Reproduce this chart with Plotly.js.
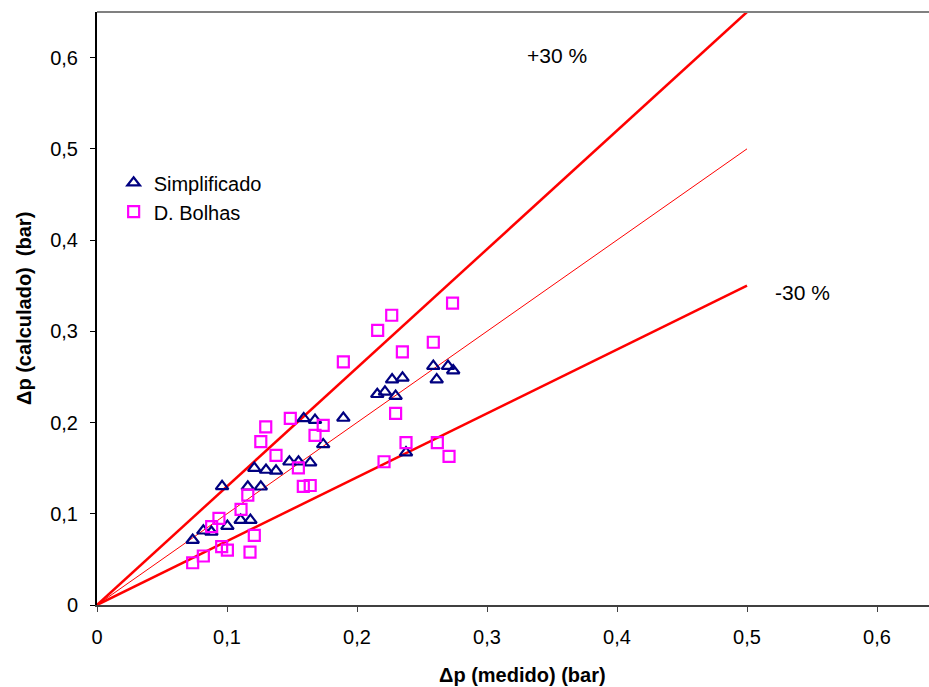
<!DOCTYPE html>
<html>
<head>
<meta charset="utf-8">
<script src="https://cdn.plot.ly/plotly-3.0.1.min.js"></script>
<style>html,body{margin:0;padding:0;background:#fff;}#chart{width:929px;height:687px;}</style>
</head>
<body>
<div id="chart"></div>
<script>
// Simplificado (triangles)
const simpX = [0.0736, 0.0818, 0.088, 0.1003, 0.1105, 0.118, 0.0962, 0.116, 0.126, 0.121, 0.130, 0.1377, 0.148, 0.155, 0.164, 0.159, 0.1677, 0.1895, 0.174, 0.2156, 0.2215, 0.2297, 0.227, 0.235, 0.2587, 0.270, 0.274, 0.2613, 0.2377];
const simpY = [0.0712, 0.0814, 0.080, 0.0865, 0.093, 0.093, 0.130, 0.1296, 0.1296, 0.150, 0.148, 0.147, 0.157, 0.157, 0.156, 0.2045, 0.2026, 0.205, 0.176, 0.231, 0.2336, 0.229, 0.247, 0.249, 0.2618, 0.2618, 0.257, 0.247, 0.167];
// D. Bolhas (squares)
const bolhX = [0.2735, 0.2267, 0.2159, 0.2587, 0.2349, 0.1895, 0.174, 0.1677, 0.2297, 0.2377, 0.2618, 0.2708, 0.2208, 0.0736, 0.0818, 0.0959, 0.1003, 0.1177, 0.121, 0.0882, 0.0938, 0.1108, 0.116, 0.1377, 0.126, 0.1298, 0.1487, 0.1549, 0.1587, 0.164];
const bolhY = [0.331, 0.3176, 0.301, 0.288, 0.2774, 0.2665, 0.197, 0.186, 0.210, 0.178, 0.178, 0.163, 0.157, 0.0463, 0.0537, 0.0639, 0.0602, 0.058, 0.0763, 0.0858, 0.095, 0.1048, 0.1205, 0.164, 0.179, 0.1953, 0.2045, 0.1504, 0.130, 0.131];
// Reference lines
const lineX = [0, 0.5];
const plus30Y = [0, 0.65];
const equalY = [0, 0.5];
const minus30Y = [0, 0.35];
// Tick values
const tickVals = [0, 0.1, 0.2, 0.3, 0.4, 0.5, 0.6];

const FONT = 'Liberation Sans, Arial, sans-serif';
const red = '#FF0000';

const traces = [
  {x: lineX, y: plus30Y, mode: 'lines', line: {color: red, width: 2.5}, showlegend: false, hoverinfo: 'skip'},
  {x: lineX, y: equalY, mode: 'lines', line: {color: red, width: 1}, showlegend: false, hoverinfo: 'skip'},
  {x: lineX, y: minus30Y, mode: 'lines', line: {color: red, width: 2.5}, showlegend: false, hoverinfo: 'skip'},
  {x: simpX, y: simpY, mode: 'markers', name: 'Simplificado',
   marker: {symbol: 'triangle-up-open', size: 11, color: '#000080', line: {color: '#000080', width: 2.2}}},
  {x: bolhX, y: bolhY, mode: 'markers', name: 'D. Bolhas',
   marker: {symbol: 'square-open', size: 11, color: '#FF00FF', line: {color: '#FF00FF', width: 2.2}}}
];

const layout = {
  width: 929, height: 687,
  margin: {l: 97, r: 0, t: 12, b: 82},
  paper_bgcolor: '#fff', plot_bgcolor: '#fff',
  separators: ',.',
  font: {family: FONT, size: 20, color: '#000'},
  showlegend: true,
  legend: {x: 0.02, y: 0.745, xanchor: 'left', yanchor: 'top', bgcolor: 'rgba(0,0,0,0)',
           font: {family: FONT, size: 20, color: '#000'}, tracegroupgap: 0},
  xaxis: {range: [0, 0.64], tickvals: tickVals, showgrid: false, zeroline: false,
          showline: true, linecolor: '#404040', linewidth: 2,
          ticks: 'outside', ticklen: 5, tickcolor: '#404040', tickwidth: 1,
          ticklabelstandoff: 8, tickfont: {family: FONT, size: 20, color: '#000'}},
  yaxis: {range: [0, 0.65], tickvals: tickVals, showgrid: false, zeroline: false,
          showline: true, linecolor: '#000', linewidth: 2,
          ticks: 'outside', ticklen: 5, tickcolor: '#000', tickwidth: 1,
          ticklabelstandoff: 8, tickfont: {family: FONT, size: 20, color: '#000'}},
  shapes: [
    {type: 'line', xref: 'paper', yref: 'paper', x0: 0, x1: 1, y0: 1, y1: 1, line: {color: '#808080', width: 2}}
  ],
  annotations: [
    {text: '+30 %', x: 0.3538, y: 0.6024, xref: 'x', yref: 'y', showarrow: false, font: {family: FONT, size: 21}},
    {text: '-30 %', x: 0.543, y: 0.3428, xref: 'x', yref: 'y', showarrow: false, font: {family: FONT, size: 21}},
    {text: '<b>Δp (medido) (bar)</b>', x: 0.511, y: -0.14, xref: 'paper', yref: 'paper', showarrow: false,
     font: {family: FONT, size: 20}},
    {text: '<b>Δp (calculado)  (bar)</b>', x: -0.104, y: 0.5, xref: 'paper', yref: 'paper', showarrow: false,
     textangle: -90, font: {family: FONT, size: 20}}
  ]
};

Plotly.newPlot('chart', traces, layout, {displayModeBar: false, staticPlot: true});
</script>
</body>
</html>
